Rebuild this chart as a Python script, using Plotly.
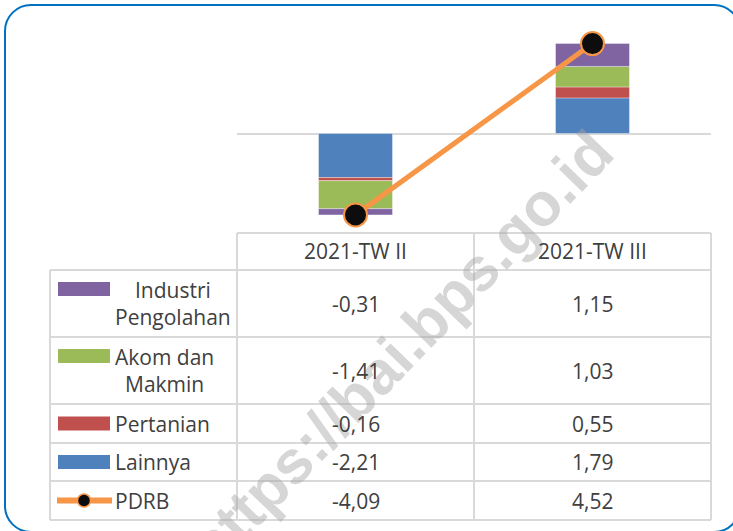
import plotly.graph_objects as go

# ---------------- data ----------------
categories = ["2021-TW II", "2021-TW III"]
industri = [-0.31, 1.15]
akom = [-1.41, 1.03]
pertanian = [-0.16, 0.55]
lainnya = [-2.21, 1.79]
pdrb = [-4.09, 4.52]

row_labels = ["Industri<br>Pengolahan", "Akom dan<br>Makmin", "Pertanian", "Lainnya", "PDRB"]
row_values = [industri, akom, pertanian, lainnya, pdrb]
row_colors = ["#8064A2", "#9BBB59", "#C0504D", "#4F81BD", "#F79646"]

W, H = 733, 531
FONT = "Open Sans, Lato, sans-serif"
TXT = "#404040"
GRID = "#D9D9D9"
FS = 21


def px(x):
    return x / W


def py(y):
    return 1 - y / H


fig = go.Figure()

# stacked bars: first trace nearest zero
stack_order = [3, 2, 1, 0]
for i in stack_order:
    fig.add_trace(go.Bar(
        x=categories, y=row_values[i], name=row_labels[i].replace("<br>", " "),
        marker=dict(color=row_colors[i], line=dict(color="rgba(255,255,255,0.6)", width=0.6)),
        showlegend=False, hoverinfo="skip"))

fig.add_trace(go.Scatter(
    x=categories, y=pdrb, mode="lines+markers", name="PDRB",
    line=dict(color="#F79646", width=5),
    marker=dict(size=23, color="#0D0D0D", line=dict(color="#F79646", width=2)),
    cliponaxis=False, showlegend=False, hoverinfo="skip"))

# plot geometry (pixels)
plot_l, plot_r = 237, 711
plot_t, plot_b = 20, 230
zero_y = 133.5
ppu = 19.9
y_top = (zero_y - plot_t) / ppu
y_bot = -(plot_b - zero_y) / ppu

fig.update_layout(
    width=W, height=H,
    margin=dict(l=0, r=0, t=0, b=0),
    paper_bgcolor="white", plot_bgcolor="white",
    barmode="relative", bargap=0.688,
    xaxis=dict(domain=[px(plot_l), px(plot_r)], range=[-0.5, 1.5], type="category",
               showticklabels=False, showgrid=False, zeroline=False, ticks=""),
    yaxis=dict(domain=[py(plot_b), py(plot_t)], range=[y_bot, y_top],
               showticklabels=False, showgrid=False, zeroline=True,
               zerolinecolor=GRID, zerolinewidth=2, ticks=""),
    font=dict(family=FONT, color=TXT, size=FS),
)

shapes = []
annotations = []

# watermark (drawn first, beneath other text)
annotations.append(dict(
    x=px(400), y=py(350), xref="paper", yref="paper", text="<b>https://bai.bps.go.id</b>",
    showarrow=False, textangle=-46, xanchor="center", yanchor="middle",
    font=dict(family="Liberation Sans, Arial, sans-serif", size=61, color="rgba(165,165,165,0.45)")))

# table geometry
row_edges = [233, 270, 337, 404, 443, 481, 520]
col_edges = [50, 237, 474, 711]
line_h = 29


def hline(x0, x1, y):
    shapes.append(dict(type="line", xref="paper", yref="paper", x0=px(x0), x1=px(x1),
                       y0=py(y), y1=py(y), line=dict(color=GRID, width=2)))


def vline(x, y0, y1):
    shapes.append(dict(type="line", xref="paper", yref="paper", x0=px(x), x1=px(x),
                       y0=py(y0), y1=py(y1), line=dict(color=GRID, width=2)))


hline(col_edges[1], col_edges[3], row_edges[0])
for y in row_edges[1:]:
    hline(col_edges[0], col_edges[3], y)
vline(col_edges[0], row_edges[1], row_edges[-1])
for x in col_edges[1:]:
    vline(x, row_edges[0], row_edges[-1])

# header
for j, c in enumerate(categories):
    annotations.append(dict(
        x=px((col_edges[j + 1] + col_edges[j + 2]) / 2), y=py((row_edges[0] + row_edges[1]) / 2),
        xref="paper", yref="paper", text=c, showarrow=False,
        xanchor="center", yanchor="middle", font=dict(size=FS, color=TXT)))

# rows
for i, (lab, vals, col) in enumerate(zip(row_labels, row_values, row_colors)):
    yc = (row_edges[i + 1] + row_edges[i + 2]) / 2
    nlines = lab.count("<br>") + 1
    first_y = yc - (nlines - 1) * line_h / 2
    for j, v in enumerate(vals):
        annotations.append(dict(
            x=px((col_edges[j + 1] + col_edges[j + 2]) / 2), y=py(yc),
            xref="paper", yref="paper", text=f"{v:.2f}".replace(".", ","), showarrow=False,
            xanchor="center", yanchor="middle", font=dict(size=FS, color=TXT)))
    annotations.append(dict(
        x=px(113), y=py(yc), xref="paper", yref="paper", text=lab, showarrow=False,
        xanchor="left", yanchor="middle", align="center",
        font=dict(size=FS, color=TXT)))
    if lab == "PDRB":
        shapes.append(dict(type="line", xref="paper", yref="paper", x0=px(57), x1=px(112),
                           y0=py(first_y), y1=py(first_y), line=dict(color=col, width=6)))
        shapes.append(dict(type="circle", xref="paper", yref="paper",
                           x0=px(84 - 6.5), x1=px(84 + 6.5), y0=py(first_y - 6.5), y1=py(first_y + 6.5),
                           fillcolor="#0D0D0D", line=dict(color=col, width=1.5)))
    else:
        shapes.append(dict(type="rect", xref="paper", yref="paper", x0=px(58), x1=px(110),
                           y0=py(first_y - 7), y1=py(first_y + 7), fillcolor=col, line=dict(width=0)))

# rounded border (right and bottom edges fall just outside the picture)
L, R, T, B, r = 5, 740, 5, 532, 26
k = 0.5523 * r
path = (f"M {px(L + r)},{py(T)} L {px(R - r)},{py(T)} "
        f"C {px(R - r + k)},{py(T)} {px(R)},{py(T + r - k)} {px(R)},{py(T + r)} "
        f"L {px(R)},{py(B - r)} "
        f"C {px(R)},{py(B - r + k)} {px(R - r + k)},{py(B)} {px(R - r)},{py(B)} "
        f"L {px(L + r)},{py(B)} "
        f"C {px(L + r - k)},{py(B)} {px(L)},{py(B - r + k)} {px(L)},{py(B - r)} "
        f"L {px(L)},{py(T + r)} "
        f"C {px(L)},{py(T + r - k)} {px(L + r - k)},{py(T)} {px(L + r)},{py(T)} Z")
shapes.append(dict(type="path", xref="paper", yref="paper", path=path,
                   line=dict(color="#0070C0", width=2), layer="below"))

fig.update_layout(shapes=shapes, annotations=annotations)
fig.write_html("out.html", config={"displayModeBar": False},
               post_script="document.body.style.margin='0';document.body.style.overflow='hidden';")
